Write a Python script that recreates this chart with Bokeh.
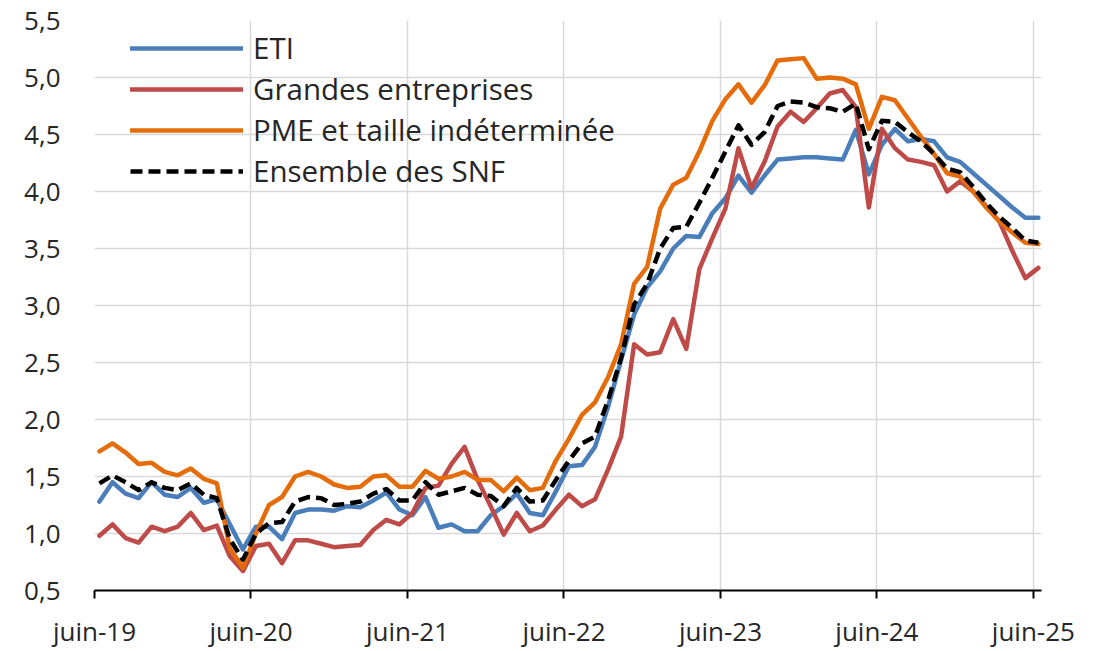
import numpy as np
from bokeh.plotting import figure
from bokeh.models import FixedTicker, CustomJSTickFormatter, Legend, LegendItem
from bokeh.embed import file_html
from bokeh.resources import INLINE

# Tick labels (one per June, monthly series starting June 2019)
tick_labels = ["juin-19", "juin-20", "juin-21", "juin-22", "juin-23", "juin-24", "juin-25"]
y_ticks = [0.5, 1.0, 1.5, 2.0, 2.5, 3.0, 3.5, 4.0, 4.5, 5.0, 5.5]

# Series (monthly, juin-19 .. juin-25)
eti = [1.28, 1.45, 1.35, 1.31, 1.45, 1.34, 1.32, 1.40, 1.27, 1.30,
       1.08, 0.86, 1.06, 1.06, 0.95, 1.18, 1.21, 1.21, 1.20, 1.24,
       1.23, 1.29, 1.36, 1.21, 1.16, 1.32, 1.05, 1.08, 1.02, 1.02,
       1.16, 1.24, 1.35, 1.18, 1.16, 1.37, 1.59, 1.60, 1.76, 2.11,
       2.52, 2.92, 3.16, 3.30, 3.50, 3.61, 3.60, 3.81, 3.94, 4.14,
       3.99, 4.14, 4.28, 4.29, 4.30, 4.30, 4.29, 4.28, 4.54, 4.15,
       4.41, 4.55, 4.44, 4.46, 4.44, 4.30, 4.26, 4.16, 4.06, 3.96,
       3.86, 3.77, 3.77]
ge = [0.98, 1.08, 0.96, 0.92, 1.06, 1.02, 1.06, 1.18, 1.03, 1.07,
      0.80, 0.67, 0.89, 0.91, 0.74, 0.94, 0.94, 0.91, 0.88, 0.89,
      0.90, 1.03, 1.12, 1.08, 1.18, 1.40, 1.42, 1.61, 1.76, 1.47,
      1.24, 0.99, 1.18, 1.02, 1.07, 1.21, 1.34, 1.24, 1.30, 1.56,
      1.85, 2.66, 2.57, 2.59, 2.88, 2.62, 3.32, 3.59, 3.85, 4.38,
      4.03, 4.26, 4.57, 4.70, 4.61, 4.73, 4.86, 4.89, 4.74, 3.86,
      4.55, 4.38, 4.28, 4.26, 4.23, 4.00, 4.09, 4.00, 3.87, 3.74,
      3.48, 3.24, 3.33]
pme = [1.72, 1.79, 1.71, 1.61, 1.62, 1.54, 1.51, 1.57, 1.48, 1.44,
       0.87, 0.70, 1.00, 1.25, 1.32, 1.50, 1.54, 1.50, 1.43, 1.40,
       1.41, 1.50, 1.51, 1.41, 1.41, 1.55, 1.48, 1.50, 1.54, 1.47,
       1.47, 1.37, 1.49, 1.38, 1.40, 1.64, 1.83, 2.04, 2.15, 2.37,
       2.66, 3.19, 3.34, 3.85, 4.06, 4.12, 4.35, 4.62, 4.81, 4.94,
       4.78, 4.93, 5.15, 5.16, 5.17, 4.99, 5.00, 4.99, 4.94, 4.55,
       4.83, 4.80, 4.64, 4.48, 4.33, 4.16, 4.13, 4.00, 3.86, 3.74,
       3.64, 3.55, 3.54]
snf = [1.44, 1.51, 1.45, 1.38, 1.45, 1.40, 1.38, 1.44, 1.34, 1.31,
       0.95, 0.77, 1.00, 1.09, 1.10, 1.28, 1.32, 1.31, 1.25, 1.26,
       1.28, 1.35, 1.39, 1.29, 1.29, 1.45, 1.34, 1.37, 1.40, 1.34,
       1.33, 1.24, 1.40, 1.28, 1.29, 1.47, 1.64, 1.79, 1.85, 2.17,
       2.54, 3.01, 3.19, 3.50, 3.68, 3.69, 3.90, 4.12, 4.35, 4.58,
       4.41, 4.52, 4.75, 4.79, 4.78, 4.74, 4.73, 4.70, 4.77, 4.37,
       4.62, 4.61, 4.52, 4.44, 4.33, 4.20, 4.17, 4.04, 3.90, 3.78,
       3.68, 3.57, 3.55]

n = len(eti)
x = np.arange(n) + 0.38  # months since juin-19, plotted mid-month

FONT = "Open Sans"
TXT = "#262626"

p = figure(width=1094, height=651, output_backend="svg", toolbar_location=None,
           x_range=(0, 72.62), y_range=(0.5, 5.5),
           min_border_left=94, min_border_right=53, min_border_top=20, min_border_bottom=60)
p.outline_line_color = None
p.background_fill_color = "white"

# grids
p.xgrid.ticker = FixedTicker(ticks=[12 * k for k in range(len(tick_labels))])
p.ygrid.ticker = FixedTicker(ticks=y_ticks)
for g in (p.xgrid, p.ygrid):
    g.grid_line_color = "#d9d9d9"
    g.grid_line_width = 1.5

# x axis
xa = p.xaxis[0]
xa.ticker = FixedTicker(ticks=[12 * k for k in range(len(tick_labels))])
xa.major_label_overrides = {12 * k: lab for k, lab in enumerate(tick_labels)}
xa.axis_line_color = "black"
xa.axis_line_width = 2
xa.major_tick_line_color = "black"
xa.major_tick_line_width = 2
xa.major_tick_in = 0
xa.major_tick_out = 8
xa.minor_tick_line_color = None
xa.major_label_standoff = 14
xa.major_label_text_font = FONT
xa.major_label_text_font_size = "26px"
xa.major_label_text_color = TXT

# y axis
ya = p.yaxis[0]
ya.ticker = FixedTicker(ticks=y_ticks)
ya.formatter = CustomJSTickFormatter(code="return tick.toFixed(1).replace('.', ',');")
ya.axis_line_color = None
ya.major_tick_line_color = None
ya.major_tick_in = 0
ya.major_tick_out = 0
ya.minor_tick_line_color = None
ya.minor_tick_out = 0
ya.major_label_standoff = 34
ya.major_label_text_font = FONT
ya.major_label_text_font_size = "26px"
ya.major_label_text_color = TXT

r_eti = p.line(x, eti, line_color="#4A7EBB", line_width=4.5, line_join="round", line_cap="round")
r_ge = p.line(x, ge, line_color="#BE4B48", line_width=4.5, line_join="round", line_cap="round")
r_pme = p.line(x, pme, line_color="#E46C0A", line_width=4.5, line_join="round", line_cap="round")
r_snf = p.line(x, snf, line_color="black", line_width=4.5, line_dash="12 6", line_join="round")

legend = Legend(items=[
    LegendItem(label="ETI", renderers=[r_eti]),
    LegendItem(label="Grandes entreprises", renderers=[r_ge]),
    LegendItem(label="PME et taille indéterminée", renderers=[r_pme]),
    LegendItem(label="Ensemble des SNF", renderers=[r_snf]),
], location=(36, 399), orientation="vertical", padding=0, margin=0, spacing=0,
    glyph_width=113, glyph_height=40, label_height=40, label_standoff=10,
    label_text_font=FONT, label_text_font_size="29.5px", label_text_color=TXT,
    border_line_color=None, background_fill_alpha=0)
p.add_layout(legend, "center")

open("out.html", "w").write(file_html(p, INLINE))
